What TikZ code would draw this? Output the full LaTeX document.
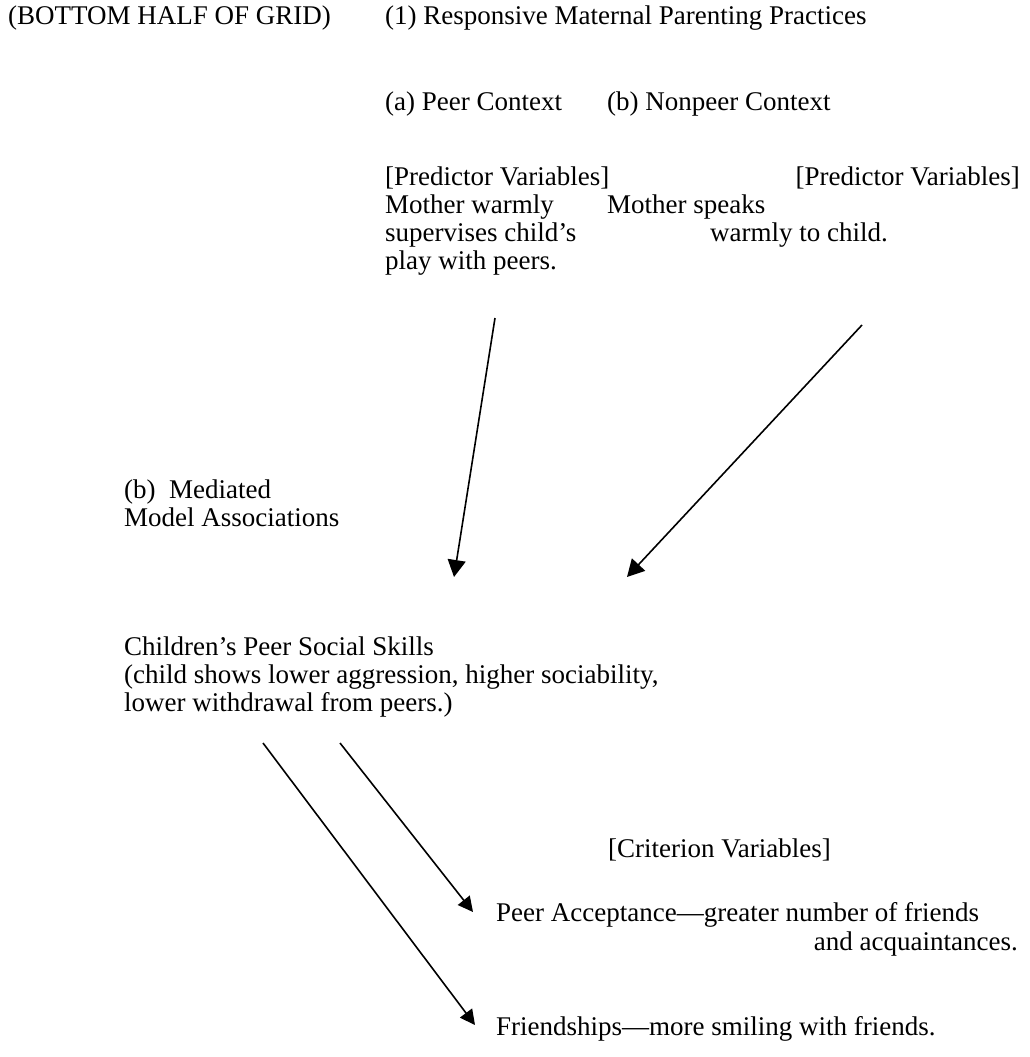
\documentclass[tikz,border=0pt]{standalone}
\usepackage{fontspec}
\setmainfont{Liberation Serif}
\usetikzlibrary{arrows.meta}
\begin{document}
\begin{tikzpicture}[x=1pt,y=-1pt,
  txt/.style={inner sep=0pt, font=\fontsize{27}{28.5}\selectfont},
  lt/.style={txt, anchor=base west},
  rt/.style={txt, anchor=base east},
  arr/.style={line width=1.6pt, -{Triangle[width=18pt,length=17pt]}},
  arrs/.style={line width=1.6pt, -{Triangle[width=15pt,length=15pt]}}]
\fill[white] (0,0) rectangle (1030,1057);
\useasboundingbox (0,0) rectangle (1030,1057);

\node[lt] (grid) at (8,25) {(BOTTOM HALF OF GRID)};
\node[lt] (title) at (385,25) {(1) Responsive Maternal Parenting Practices};

\node[lt] (peerctx) at (385,110) {(a) Peer Context};
\node[lt] (nonpeerctx) at (607,110) {(b) Nonpeer Context};

\node[lt] (predL) at (385,185) {[Predictor Variables]};
\node[lt] (pL1) at (385,213) {Mother warmly};
\node[lt] (pL2) at (385,241) {supervises child’s};
\node[lt] (pL3) at (385,269) {play with peers.};

\node[rt] (predR) at (1020,185) {[Predictor Variables]};
\node[lt] (pR1) at (607,213) {Mother speaks};
\node[lt] (pR2) at (710,241) {warmly to child.};

\node[lt] (med1) at (124,498) {(b)\ \ Mediated};
\node[lt] (med2) at (124,526) {Model Associations};

\node[lt] (skills) at (124,655) {Children’s Peer Social Skills};
\node[lt] (sk2) at (124,683) {(child shows lower aggression, higher sociability,};
\node[lt] (sk3) at (124,711) {lower withdrawal from peers.)};

\node[lt] (crit) at (608,857) {[Criterion Variables]};
\node[lt] (acc1) at (496,921) {Peer Acceptance—greater number of friends};
\node[rt] (acc2) at (1018,950) {and acquaintances.};
\node[lt] (friend) at (496,1035) {Friendships—more smiling with friends.};

\coordinate (a1s) at (495,318);
\coordinate (a1e) at (454,577);
\coordinate (a2s) at (862,325);
\coordinate (a2e) at (627,577);
\coordinate (a3s) at (263,743);
\coordinate (a3e) at (475,1025);
\coordinate (a4s) at (340,743);
\coordinate (a4e) at (473,912);

\draw[arr] (a1s) -- (a1e);
\draw[arr] (a2s) -- (a2e);
\draw[arrs] (a3s) -- (a3e);
\draw[arrs] (a4s) -- (a4e);
\end{tikzpicture}
\end{document}
